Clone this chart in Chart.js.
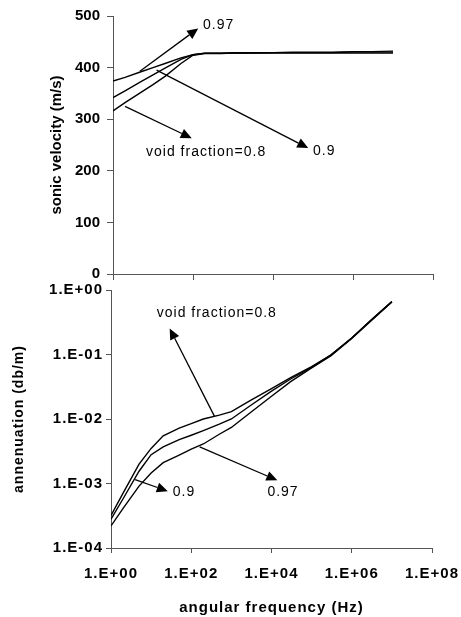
<!DOCTYPE html>
<html>
<head>
<meta charset="utf-8">
<script src="https://cdn.jsdelivr.net/npm/chart.js@4.4.0/dist/chart.umd.min.js"></script>
<style>
  body { margin: 0; background: #fff; }
  #wrap { position: relative; width: 461px; height: 617px; }
  canvas { position: absolute; left: 0; }
</style>
</head>
<body>
<div id="wrap">
  <canvas id="velChart" width="461" height="290" style="top:0"></canvas>
  <canvas id="attChart" width="461" height="337" style="top:280px"></canvas>
</div>
<script>
// angular frequency (Hz), same points for both plots
var freq = [1, 2, 5, 10, 20, 50, 100, 200, 500, 1e3, 3e3, 1e4, 3e4, 1e5, 3e5, 1e6, 3e6, 1e7];

// sonic velocity (m/s) for void fraction 0.8 / 0.9 / 0.97
var vel08  = [316, 332, 352, 367, 383, 408, 424, 427, 427, 428, 428, 428, 428, 428, 428, 428, 428, 428];
var vel09  = [342, 355, 373, 386, 399, 416, 425, 428, 428, 428, 428, 429, 429, 429, 429, 430, 430, 430];
var vel097 = [374, 381, 392, 400, 408, 419, 425, 428, 428, 429, 429, 429, 430, 430, 430, 431, 431, 432];

// annenuation (db/m)
var att08  = [3.2e-4, 7.1e-4, 2.0e-3, 3.5e-3, 5.5e-3, 7.2e-3, 8.5e-3, 1.0e-2, 1.15e-2, 1.3e-2, 1.95e-2, 2.95e-2, 4.37e-2, 6.5e-2, 9.8e-2, 0.18, 0.34, 0.66];
var att09  = [2.8e-4, 5.8e-4, 1.55e-3, 2.8e-3, 3.7e-3, 4.8e-3, 5.6e-3, 6.6e-3, 8.3e-3, 1.0e-2, 1.62e-2, 2.7e-2, 4.17e-2, 6.3e-2, 9.8e-2, 0.18, 0.34, 0.66];
var att097 = [2.2e-4, 4.1e-4, 9.1e-4, 1.45e-3, 2.1e-3, 2.75e-3, 3.4e-3, 4.1e-3, 5.8e-3, 7.4e-3, 1.26e-2, 2.25e-2, 3.8e-2, 6.2e-2, 9.5e-2, 0.178, 0.33, 0.65];

// tick values
var freqTicks = [1, 1e2, 1e4, 1e6, 1e8];
var velTicks = [0, 100, 200, 300, 400, 500];
var attTicks = [1e-4, 1e-3, 1e-2, 1e-1, 1];

// arrow labels (data coords: [freq, value])
var velNotes = [
  { text: '0.97', from: [4.7, 393], to: [135, 476], at: [178, 482] },
  { text: '0.9', from: [12.3, 395], to: [7.6e4, 244], at: [1e5, 238] },
  { text: 'void fraction=0.8', from: [2.0, 325], to: [93, 263], at: [6.7, 236] }
];
var attNotes = [
  { text: 'void fraction=0.8', from: [380, 0.011], to: [29, 0.254], at: [13.8, 0.44] },
  { text: '0.9', from: [4.0, 1.15e-3], to: [26, 7.6e-4], at: [34.5, 7.3e-4] },
  { text: '0.97', from: [162, 3.7e-3], to: [14000, 1.12e-3], at: [7900, 7.3e-4] }
];

var FONT = '"Liberation Sans", Arial, sans-serif';
var AXIS = '#555';

function pts(ys) {
  return freq.map(function (f, i) { return { x: f, y: ys[i] }; });
}

function sci(v) {
  var e = Math.round(Math.log10(v));
  return '1.E' + (e < 0 ? '-' : '+') + String(Math.abs(e)).padStart(2, '0');
}

function lineSet(label, ys) {
  return {
    label: label,
    data: pts(ys),
    borderColor: '#000',
    borderWidth: 1.4,
    pointRadius: 0,
    fill: false,
    tension: 0
  };
}

// draws the arrows and their text
function arrows(notes) {
  return {
    id: 'arrows',
    afterDatasetsDraw: function (chart) {
      var ctx = chart.ctx, xs = chart.scales.x, ys = chart.scales.y;
      ctx.save();
      ctx.letterSpacing = '1px';
      ctx.strokeStyle = '#000';
      ctx.fillStyle = '#000';
      ctx.lineWidth = 1.3;
      notes.forEach(function (n) {
        var x1 = xs.getPixelForValue(n.from[0]), y1 = ys.getPixelForValue(n.from[1]);
        var x2 = xs.getPixelForValue(n.to[0]), y2 = ys.getPixelForValue(n.to[1]);
        var a = Math.atan2(y2 - y1, x2 - x1);
        var hl = 11, hw = 5;
        var bx = x2 - hl * Math.cos(a), by = y2 - hl * Math.sin(a);
        ctx.beginPath();
        ctx.moveTo(x1, y1);
        ctx.lineTo(bx, by);
        ctx.stroke();
        ctx.beginPath();
        ctx.moveTo(x2, y2);
        ctx.lineTo(bx - hw * Math.sin(a), by + hw * Math.cos(a));
        ctx.lineTo(bx + hw * Math.sin(a), by - hw * Math.cos(a));
        ctx.closePath();
        ctx.fill();
        ctx.font = '14px ' + FONT;
        ctx.textAlign = 'left';
        ctx.textBaseline = 'middle';
        ctx.fillText(n.text, xs.getPixelForValue(n.at[0]), ys.getPixelForValue(n.at[1]));
      });
      ctx.restore();
    }
  };
}

function spacing(px) {
  return {
    id: 'spacing',
    beforeDraw: function (chart) { chart.ctx.letterSpacing = px; }
  };
}

// top: sonic velocity
new Chart(document.getElementById('velChart'), {
  type: 'line',
  data: {
    datasets: [lineSet('0.8', vel08), lineSet('0.9', vel09), lineSet('0.97', vel097)]
  },
  options: {
    responsive: false,
    animation: false,
    layout: { padding: { left: 46, right: 28, top: 16, bottom: 0 } },
    plugins: { legend: { display: false }, tooltip: { enabled: false } },
    scales: {
      x: {
        type: 'logarithmic', min: 1, max: 1e8,
        afterBuildTicks: function (s) { s.ticks = freqTicks.map(function (v) { return { value: v }; }); },
        afterFit: function (s) { s.height = 16; s.paddingLeft = 0; s.paddingRight = 0; },
        ticks: { display: false },
        grid: { drawOnChartArea: false, tickLength: 6, color: AXIS },
        border: { color: AXIS }
      },
      y: {
        type: 'linear', min: 0, max: 500,
        afterBuildTicks: function (s) { s.ticks = velTicks.map(function (v) { return { value: v }; }); },
        afterFit: function (s) { s.width = 67; s.paddingTop = 0; s.paddingBottom = 0; },
        ticks: { color: '#000', padding: 7, font: { family: FONT, size: 15, weight: 'bold' } },
        grid: { drawOnChartArea: false, tickLength: 6, color: AXIS },
        border: { color: AXIS },
        title: {
          display: true, text: 'sonic velocity (m/s)', color: '#000',
          font: { family: FONT, size: 15, weight: 'bold' }, padding: { top: 2, bottom: 0 }
        }
      }
    }
  },
  plugins: [arrows(velNotes)]
});

// bottom: annenuation
new Chart(document.getElementById('attChart'), {
  type: 'line',
  data: {
    datasets: [lineSet('0.8', att08), lineSet('0.9', att09), lineSet('0.97', att097)]
  },
  options: {
    responsive: false,
    animation: false,
    layout: { padding: { left: 9, right: 29, top: 10, bottom: 0 } },
    plugins: { legend: { display: false }, tooltip: { enabled: false } },
    scales: {
      x: {
        type: 'logarithmic', min: 1, max: 1e8,
        afterBuildTicks: function (s) { s.ticks = freqTicks.map(function (v) { return { value: v }; }); },
        afterFit: function (s) { s.height = 69; s.paddingLeft = 0; s.paddingRight = 0; },
        ticks: { color: '#000', padding: 12, maxRotation: 0, font: { family: FONT, size: 15, weight: 'bold' }, callback: sci },
        grid: { drawOnChartArea: false, tickLength: 5, color: AXIS },
        border: { color: AXIS },
        title: {
          display: true, text: 'angular frequency (Hz)', color: '#000',
          font: { family: FONT, size: 15, weight: 'bold' }, padding: { top: 0, bottom: 0 }
        }
      },
      y: {
        type: 'logarithmic', min: 1e-4, max: 1,
        afterBuildTicks: function (s) { s.ticks = attTicks.map(function (v) { return { value: v }; }); },
        afterFit: function (s) { s.width = 102; s.paddingTop = 0; s.paddingBottom = 0; },
        ticks: { color: '#000', padding: 3, font: { family: FONT, size: 15, weight: 'bold' }, callback: sci },
        grid: { drawOnChartArea: false, tickLength: 5, color: AXIS },
        border: { color: AXIS },
        title: {
          display: true, text: 'annenuation (db/m)', color: '#000',
          font: { family: FONT, size: 14, weight: 'bold' }, padding: { top: 2, bottom: 0 }
        }
      }
    }
  },
  plugins: [spacing('1px'), arrows(attNotes)]
});
</script>
</body>
</html>
